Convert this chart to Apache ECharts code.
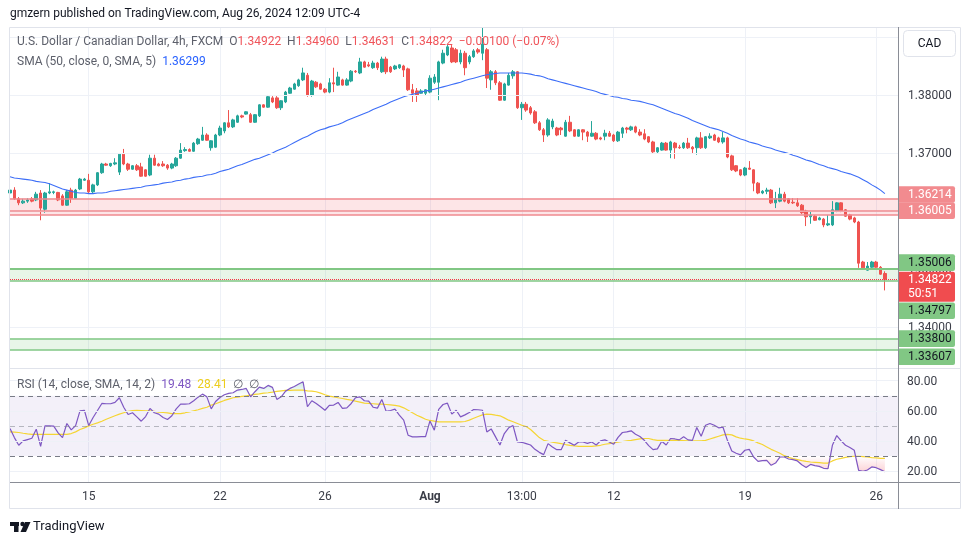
<!DOCTYPE html>
<html><head><meta charset="utf-8">
<script src="https://cdn.jsdelivr.net/npm/echarts/dist/echarts.min.js"></script>
<style>html,body{margin:0;padding:0;background:#fff;}#c{width:970px;height:545px;}</style>
</head><body><div id="c"></div>
<script>
// ---------- DATA ----------
// 4h candles [open, close, low, high]
const candles = [
[1.3631,1.3636,1.3628,1.3640],[1.3636,1.3621,1.3619,1.3641],[1.3621,1.3614,1.3610,1.3624],[1.3614,1.3617,1.3612,1.3621],[1.3617,1.3619,1.3614,1.3622],
[1.3621,1.3617,1.3615,1.3624],[1.3619,1.3629,1.3617,1.3633],[1.3631,1.3605,1.3584,1.3636],[1.3603,1.3631,1.3597,1.3633],[1.3631,1.3633,1.3629,1.3648],
[1.3632,1.3633,1.3629,1.3635],[1.3632,1.3619,1.3617,1.3633],[1.3626,1.3610,1.3609,1.3629],[1.3610,1.3633,1.3609,1.3636],[1.3636,1.3622,1.3614,1.3640],
[1.3622,1.3636,1.3621,1.3638],[1.3638,1.3655,1.3636,1.3657],[1.3653,1.3655,1.3652,1.3657],[1.3653,1.3633,1.3631,1.3664],[1.3633,1.3645,1.3631,1.3647],
[1.3645,1.3666,1.3643,1.3667],[1.3666,1.3681,1.3664,1.3683],[1.3681,1.3679,1.3678,1.3683],[1.3678,1.3682,1.3676,1.3683],[1.3681,1.3683,1.3679,1.3691],
[1.3667,1.3698,1.3662,1.3700],[1.3698,1.3681,1.3679,1.3707],[1.3681,1.3672,1.3669,1.3683],[1.3672,1.3678,1.3671,1.3679],[1.3678,1.3671,1.3669,1.3681],
[1.3676,1.3660,1.3659,1.3683],[1.3671,1.3660,1.3659,1.3672],[1.3662,1.3691,1.3660,1.3697],[1.3691,1.3679,1.3678,1.3697],[1.3681,1.3678,1.3677,1.3683],
[1.3681,1.3678,1.3676,1.3686],[1.3679,1.3674,1.3671,1.3681],[1.3674,1.3681,1.3672,1.3683],[1.3678,1.3691,1.3676,1.3693],[1.3691,1.3705,1.3690,1.3717],
[1.3704,1.3706,1.3702,1.3710],[1.3706,1.3703,1.3702,1.3708],[1.3703,1.3717,1.3702,1.3719],[1.3716,1.3724,1.3714,1.3726],[1.3722,1.3731,1.3721,1.3745],
[1.3731,1.3722,1.3721,1.3734],[1.3709,1.3721,1.3704,1.3722],[1.3710,1.3731,1.3709,1.3733],[1.3731,1.3743,1.3729,1.3747],[1.3738,1.3752,1.3734,1.3753],
[1.3752,1.3745,1.3743,1.3774],[1.3745,1.3757,1.3743,1.3759],[1.3753,1.3764,1.3752,1.3766],[1.3764,1.3762,1.3760,1.3766],[1.3767,1.3771,1.3766,1.3772],
[1.3766,1.3753,1.3752,1.3769],[1.3753,1.3766,1.3752,1.3767],[1.3764,1.3783,1.3762,1.3784],[1.3783,1.3779,1.3778,1.3784],[1.3779,1.3797,1.3778,1.3800],
[1.3795,1.3788,1.3786,1.3798],[1.3795,1.3778,1.3776,1.3798],[1.3778,1.3790,1.3774,1.3791],[1.3788,1.3805,1.3786,1.3807],[1.3803,1.3812,1.3802,1.3814],
[1.3810,1.3819,1.3809,1.3821],[1.3816,1.3826,1.3814,1.3828],[1.3826,1.3838,1.3824,1.3847],[1.3834,1.3800,1.3797,1.3838],[1.3800,1.3824,1.3797,1.3826],
[1.3822,1.3814,1.3812,1.3824],[1.3819,1.3810,1.3809,1.3821],[1.3810,1.3805,1.3803,1.3812],[1.3805,1.3821,1.3803,1.3829],[1.3821,1.3819,1.3805,1.3847],
[1.3817,1.3831,1.3816,1.3840],[1.3826,1.3817,1.3816,1.3828],[1.3817,1.3826,1.3816,1.3829],[1.3824,1.3841,1.3822,1.3843],[1.3841,1.3840,1.3838,1.3843],
[1.3838,1.3857,1.3836,1.3864],[1.3857,1.3848,1.3847,1.3859],[1.3852,1.3850,1.3848,1.3857],[1.3847,1.3855,1.3845,1.3859],[1.3855,1.3847,1.3843,1.3857],
[1.3840,1.3862,1.3838,1.3866],[1.3862,1.3840,1.3836,1.3866],[1.3848,1.3840,1.3838,1.3850],[1.3845,1.3850,1.3843,1.3852],[1.3847,1.3852,1.3845,1.3853],
[1.3850,1.3843,1.3831,1.3852],[1.3845,1.3809,1.3807,1.3847],[1.3809,1.3803,1.3788,1.3819],[1.3807,1.3800,1.3788,1.3812],[1.3803,1.3807,1.3802,1.3810],
[1.3803,1.3809,1.3800,1.3810],[1.3805,1.3829,1.3803,1.3834],[1.3822,1.3831,1.3819,1.3836],[1.3822,1.3857,1.3791,1.3859],[1.3855,1.3872,1.3853,1.3878],
[1.3869,1.3883,1.3867,1.3888],[1.3881,1.3857,1.3855,1.3886],[1.3878,1.3857,1.3855,1.3881],[1.3857,1.3872,1.3853,1.3878],[1.3872,1.3847,1.3834,1.3876],
[1.3857,1.3866,1.3853,1.3869],[1.3866,1.3876,1.3864,1.3879],[1.3878,1.3874,1.3871,1.3881],[1.3872,1.3888,1.3860,1.3917],[1.3878,1.3829,1.3812,1.3881],
[1.3826,1.3840,1.3809,1.3843],[1.3840,1.3821,1.3817,1.3843],[1.3821,1.3791,1.3790,1.3824],[1.3791,1.3819,1.3790,1.3821],[1.3817,1.3834,1.3816,1.3838],
[1.3833,1.3840,1.3828,1.3843],[1.3840,1.3778,1.3776,1.3841],[1.3778,1.3784,1.3757,1.3788],[1.3784,1.3774,1.3771,1.3788],[1.3778,1.3769,1.3766,1.3781],
[1.3771,1.3752,1.3750,1.3774],[1.3752,1.3740,1.3738,1.3755],[1.3740,1.3731,1.3719,1.3743],[1.3731,1.3757,1.3728,1.3760],[1.3745,1.3755,1.3741,1.3759],
[1.3743,1.3731,1.3729,1.3745],[1.3743,1.3740,1.3731,1.3745],[1.3729,1.3753,1.3728,1.3757],[1.3753,1.3738,1.3736,1.3764],[1.3740,1.3729,1.3728,1.3741],
[1.3729,1.3740,1.3728,1.3741],[1.3740,1.3736,1.3722,1.3741],[1.3736,1.3729,1.3719,1.3738],[1.3729,1.3734,1.3728,1.3755],[1.3734,1.3724,1.3722,1.3736],
[1.3726,1.3724,1.3722,1.3728],[1.3729,1.3734,1.3722,1.3740],[1.3734,1.3729,1.3728,1.3738],[1.3731,1.3721,1.3719,1.3733],[1.3721,1.3736,1.3719,1.3738],
[1.3734,1.3743,1.3726,1.3745],[1.3743,1.3741,1.3734,1.3745],[1.3740,1.3745,1.3738,1.3747],[1.3745,1.3736,1.3734,1.3747],[1.3736,1.3731,1.3729,1.3741],
[1.3733,1.3724,1.3722,1.3741],[1.3728,1.3719,1.3717,1.3729],[1.3719,1.3702,1.3700,1.3721],[1.3702,1.3709,1.3700,1.3710],[1.3705,1.3717,1.3704,1.3719],
[1.3717,1.3705,1.3704,1.3719],[1.3705,1.3719,1.3691,1.3721],[1.3717,1.3709,1.3690,1.3719],[1.3710,1.3709,1.3707,1.3714],[1.3709,1.3717,1.3707,1.3719],
[1.3717,1.3709,1.3707,1.3726],[1.3710,1.3707,1.3700,1.3712],[1.3709,1.3726,1.3697,1.3728],[1.3726,1.3709,1.3707,1.3736],[1.3709,1.3728,1.3707,1.3729],
[1.3726,1.3729,1.3724,1.3734],[1.3731,1.3722,1.3721,1.3733],[1.3726,1.3719,1.3717,1.3728],[1.3719,1.3726,1.3716,1.3736],[1.3726,1.3693,1.3691,1.3728],
[1.3695,1.3671,1.3669,1.3697],[1.3678,1.3669,1.3667,1.3679],[1.3671,1.3662,1.3660,1.3672],[1.3662,1.3674,1.3660,1.3676],[1.3674,1.3672,1.3671,1.3686],
[1.3671,1.3648,1.3634,1.3672],[1.3648,1.3631,1.3629,1.3650],[1.3631,1.3634,1.3629,1.3636],[1.3634,1.3636,1.3629,1.3640],[1.3636,1.3614,1.3612,1.3638],
[1.3614,1.3621,1.3605,1.3633],[1.3617,1.3629,1.3615,1.3640],[1.3629,1.3617,1.3615,1.3633],[1.3621,1.3614,1.3612,1.3622],[1.3615,1.3614,1.3612,1.3622],
[1.3614,1.3609,1.3607,1.3622],[1.3610,1.3597,1.3595,1.3612],[1.3600,1.3590,1.3574,1.3602],[1.3590,1.3593,1.3578,1.3600],[1.3591,1.3584,1.3583,1.3593],
[1.3585,1.3588,1.3584,1.3590],[1.3586,1.3576,1.3572,1.3588],[1.3576,1.3578,1.3574,1.3593],[1.3576,1.3602,1.3574,1.3617],[1.3600,1.3614,1.3598,1.3615],
[1.3614,1.3600,1.3598,1.3615],[1.3602,1.3591,1.3590,1.3603],[1.3593,1.3586,1.3584,1.3595],[1.3588,1.3581,1.3579,1.3590],[1.3581,1.3510,1.3502,1.3583],
[1.3512,1.3502,1.3500,1.3514],[1.3498,1.3505,1.3497,1.3512],[1.3503,1.3512,1.3502,1.3514],[1.3512,1.3503,1.3502,1.3514],[1.3503,1.3491,1.3490,1.3505],
[1.34922,1.34822,1.34631,1.34960]
];
// SMA(50)
const sma50 = [
1.3659,1.3657,1.3656,1.3655,1.3654,1.3653,1.3651,1.3650,1.3649,1.3647,
1.3644,1.3641,1.3638,1.3636,1.3634,1.3632,1.3631,1.3631,1.3630,1.3630,
1.3631,1.3631,1.3632,1.3634,1.3635,1.3636,1.3637,1.3638,1.3639,1.3640,
1.3641,1.3643,1.3644,1.3645,1.3646,1.3648,1.3649,1.3650,1.3652,1.3653,
1.3655,1.3656,1.3658,1.3659,1.3660,1.3662,1.3663,1.3665,1.3668,1.3670,
1.3672,1.3675,1.3678,1.3680,1.3683,1.3686,1.3689,1.3691,1.3694,1.3697,
1.3700,1.3704,1.3707,1.3710,1.3714,1.3718,1.3722,1.3726,1.3729,1.3733,
1.3737,1.3740,1.3742,1.3745,1.3747,1.3749,1.3752,1.3756,1.3759,1.3762,
1.3765,1.3768,1.3771,1.3775,1.3778,1.3781,1.3784,1.3788,1.3791,1.3794,
1.3797,1.3799,1.3801,1.3803,1.3805,1.3807,1.3808,1.3810,1.3812,1.3814,
1.3816,1.3818,1.3820,1.3822,1.3825,1.3827,1.3829,1.3831,1.3833,1.3835,
1.3836,1.3837,1.3838,1.3838,1.3838,1.3838,1.3838,1.3838,1.3837,1.3836,
1.3834,1.3833,1.3831,1.3828,1.3826,1.3824,1.3822,1.3820,1.3818,1.3816,
1.3814,1.3812,1.3810,1.3808,1.3806,1.3803,1.3801,1.3799,1.3797,1.3796,
1.3794,1.3793,1.3791,1.3790,1.3789,1.3787,1.3785,1.3783,1.3780,1.3777,
1.3774,1.3771,1.3768,1.3766,1.3763,1.3760,1.3756,1.3753,1.3750,1.3747,
1.3744,1.3742,1.3740,1.3737,1.3734,1.3730,1.3727,1.3724,1.3722,1.3719,
1.3717,1.3715,1.3712,1.3710,1.3708,1.3705,1.3703,1.3701,1.3699,1.3696,
1.3694,1.3691,1.3688,1.3686,1.3683,1.3680,1.3678,1.3675,1.3673,1.3671,
1.3668,1.3666,1.3664,1.3661,1.3658,1.3654,1.3650,1.3645,1.3641,1.3636,
1.36299
];
// RSI(14)
const rsi = [
48.2,42.2,37.1,40,40.9,41.8,47.8,36.4,50,50,
49.8,45.3,42.2,51.6,47.3,50.2,60,60.4,50.2,55.6,
60.2,64.9,64.7,64.7,65.6,68.7,62.4,57.6,58.7,56,
53.1,56.2,61.6,58.7,57.8,55.6,54.2,56.7,61.3,64.4,
64.4,64.7,66.7,69.1,71.1,69.3,61.3,66.2,68.9,70.7,
71.6,72,73.8,74.2,74.9,69.3,72.7,75.8,74.9,76.9,
75.6,67.6,69.3,73.1,74.9,76.2,77.8,79.3,62.7,66.7,
64.9,62.7,60.4,63.6,63.8,65.6,61.6,62,64.9,68.7,
69.3,66.7,66.4,62.4,61.8,67.6,59.6,60.2,61.1,57.1,
53.8,43.8,42.7,42.7,42.9,42.9,53.3,47.1,60.9,64.2,
65.1,57.8,60.4,56,57.3,58.9,60.9,60.7,60.4,46,
48,42.7,37.3,44.9,48.7,50.2,39.3,39.1,38.2,37.3,
34.4,32.4,30.9,38.2,36,34.2,34.2,40.4,38.7,37.1,
39.3,39.3,38.4,39.3,37.3,40,40.7,39.3,37.8,42.4,
45.6,46,46.7,44.4,42.9,40.4,36.9,34.2,34.7,39.8,
37.3,41.6,41.3,40.7,42.7,40.7,40.4,48.9,43.1,50.4,
51.6,50.4,48.7,49.1,40.4,33.3,31.8,30.7,33.8,34.4,
29.3,26.4,26.9,27.1,23.8,25.3,29.3,29.3,28,27.6,
26.7,24.2,22.4,24.4,23.6,23.1,21.8,21.6,37.1,43.6,
40,37.1,35.6,33.8,20.4,19.8,20.7,22.7,22.2,20.9,
19.48
];
// RSI-based MA(14)
const rsiMA = [
46,45.8,45.6,45.1,44.7,44.4,44.4,44.4,44.4,44.4,
44.4,44.4,44.4,44.4,44.9,46,47.6,48.7,50,51.1,
52,53.1,54.4,55.6,56.7,57.8,58.7,59.6,60.2,60.4,
60.2,60,60,59.6,59.1,58.9,58.7,58.2,58.2,58.2,
58.7,59.3,60,60.7,61.6,62.4,63.8,64.7,65.8,66.9,
67.8,68.7,69.1,69.6,70,70.4,70.9,71.3,71.8,72,
72.4,72.9,73.3,73.6,73.6,73.8,73.8,73.8,73.3,73.1,
72.7,71.8,70.7,69.8,69.3,68.7,68.2,67.6,67.1,66.4,
65.8,65.1,64.9,64.7,64.4,64.4,64.2,64,63.6,63.1,
62,60.4,58.7,57.1,55.8,54.4,53.6,53.1,52.7,52.7,
52.7,52.7,52.7,52.7,52.9,53.8,55.1,56.2,57.3,57.8,
57.6,57.1,56.7,55.3,53.8,52.7,51.6,50.4,49.6,47.6,
44.9,42.2,40.4,39.8,39.1,38.7,38.2,37.6,37.1,36.7,
36.4,36.4,36.4,36.4,36.7,37.1,37.8,38.2,38.7,39.1,
39.6,40,40.4,40.9,41.3,41.6,41.6,40.9,40.4,40.4,
40.4,40.4,40.4,40.4,40.2,40,40,40,40,40.4,
41.3,42.2,43.1,44,44.4,44,42.7,41.8,41.3,40.9,
40,38.7,37.6,36,34.4,33.1,31.8,30.2,29.1,28.2,
27.6,26.9,26.4,26,25.8,25.6,25.3,25.3,26.7,27.8,
28.4,29.1,29.6,29.8,29.8,29.6,29.3,28.9,28.7,28.4,
28.41
];
// time axis ticks (slot index -> label)
const tickIndex = [18, 48, 72, 96, 117, 138, 168, 198];
const tickText  = ['15', '22', '26', 'Aug', '13:00', '12', '19', '26'];
const priceTicks = [1.34, 1.35, 1.36, 1.37, 1.38, 1.39];
const rsiTicks = [20, 40, 60, 80];
// horizontal zones / levels
const redZone = [1.36214, 1.36005, 1.3593];
const greenZone = [1.35006, 1.34797];
const greenZone2 = [1.33800, 1.33607];
const lastPrice = 1.34822;
const smaLast = 1.36299;
const rsiLast = 19.48, rsiMALast = 28.41;

// ---------- CHART ----------
const FONT = 'Roboto, "Noto Sans", sans-serif';
const chart = echarts.init(document.getElementById('c'));
const NSLOT = 204;
const cats = Array.from({length: NSLOT}, (_, i) => String(i));
const tickMap = {}; tickIndex.forEach((k, j) => { tickMap[k] = tickText[j]; });
const isTick = (i) => tickMap[i] !== undefined;

const obBase = rsi.map(v => Math.min(v, 70));
const obTop = rsi.map(v => Math.max(v - 70, 0));
const osBase = rsi.map(v => Math.min(v, 30));
const osTop = rsi.map(v => 30 - Math.min(v, 30));

const hLine = (v, color, width, type) => ({yAxis: v, lineStyle: {color: color, width: width, type: type || 'solid'}});

const option = {
  animation: false,
  backgroundColor: '#ffffff',
  grid: [
    {left: 10, right: 72, top: 27, height: 341, containLabel: false, outerBoundsMode: 'none'},
    {left: 10, right: 72, top: 369, height: 113, containLabel: false, outerBoundsMode: 'none'}
  ],
  xAxis: [
    {type: 'category', gridIndex: 0, data: cats, boundaryGap: false,
     axisLine: {show: false}, axisTick: {show: false}, axisLabel: {show: false},
     splitLine: {show: true, interval: (i) => isTick(i), lineStyle: {color: '#eef1f7', width: 1}}},
    {type: 'category', gridIndex: 1, data: cats, boundaryGap: false,
     axisLine: {show: false}, axisTick: {show: false},
     axisLabel: {show: true, interval: (i) => isTick(i), margin: 9, fontSize: 12, fontFamily: FONT, color: '#3a3d47',
       formatter: (v) => tickMap[+v] === 'Aug' ? '{b|Aug}' : (tickMap[+v] || ''),
       rich: {b: {fontWeight: 'bold', fontSize: 12, fontFamily: FONT, color: '#3a3d47'}}},
     splitLine: {show: true, interval: (i) => isTick(i), lineStyle: {color: '#eef1f7', width: 1}}}
  ],
  yAxis: [
    {type: 'value', gridIndex: 0, min: 1.33293, max: 1.39172, position: 'right', scale: true,
     axisLine: {show: false}, axisTick: {show: false}, axisLabel: {show: false}, splitLine: {show: false}},
    {type: 'value', gridIndex: 1, min: 12.7, max: 87.8, position: 'right',
     axisLine: {show: false}, axisTick: {show: false}, axisLabel: {show: false}, splitLine: {show: false}}
  ],
  series: [
    {type: 'candlestick', name: 'USDCAD', xAxisIndex: 0, yAxisIndex: 0, data: candles, barWidth: 3, clip: true,
     itemStyle: {color: '#26a69a', color0: '#ef5350', borderColor: '#26a69a', borderColor0: '#ef5350', borderWidth: 1},
     markArea: {silent: true, data: [
       [{yAxis: redZone[0], itemStyle: {color: 'rgba(242,54,69,0.13)'}}, {yAxis: redZone[2]}],
       [{yAxis: greenZone[0], itemStyle: {color: 'rgba(76,175,80,0.13)'}}, {yAxis: greenZone[1]}],
       [{yAxis: greenZone2[0], itemStyle: {color: 'rgba(76,175,80,0.13)'}}, {yAxis: greenZone2[1]}]
     ]},
     markLine: {silent: true, symbol: ['none', 'none'], precision: 6, label: {show: false}, data: [
       ...priceTicks.map(v => hLine(v, '#eef1f7', 1)),
       hLine(redZone[0], '#ef8a8f', 1.5), hLine(redZone[1], '#ef8a8f', 1.5), hLine(redZone[2], '#ef8a8f', 1.5),
       hLine(greenZone[0], '#81c784', 2), hLine(greenZone[1], '#81c784', 1.5),
       hLine(greenZone2[0], '#81c784', 1.5), hLine(greenZone2[1], '#81c784', 1.5),
       hLine(lastPrice, '#f23645', 1, 'dotted')
     ]}
    },
    {type: 'line', name: 'SMA', xAxisIndex: 0, yAxisIndex: 0, data: sma50, symbol: 'none', z: 3,
     lineStyle: {color: '#3d6ef7', width: 1.1}},
    {type: 'line', id: 'obBase', xAxisIndex: 1, yAxisIndex: 1, data: obBase, stack: 'ob', symbol: 'none', silent: true, lineStyle: {opacity: 0}},
    {type: 'line', id: 'obTop', xAxisIndex: 1, yAxisIndex: 1, data: obTop, stack: 'ob', symbol: 'none', silent: true, lineStyle: {opacity: 0},
     areaStyle: {color: 'rgba(8,153,129,0.2)'}},
    {type: 'line', id: 'osBase', xAxisIndex: 1, yAxisIndex: 1, data: osBase, stack: 'os', symbol: 'none', silent: true, lineStyle: {opacity: 0}},
    {type: 'line', id: 'osTop', xAxisIndex: 1, yAxisIndex: 1, data: osTop, stack: 'os', symbol: 'none', silent: true, lineStyle: {opacity: 0},
     areaStyle: {color: 'rgba(242,54,69,0.2)'}},
    {type: 'line', name: 'RSI-MA', xAxisIndex: 1, yAxisIndex: 1, data: rsiMA, symbol: 'none', z: 3,
     lineStyle: {color: '#f5d533', width: 1.2}},
    {type: 'line', name: 'RSI', xAxisIndex: 1, yAxisIndex: 1, data: rsi, symbol: 'none', z: 4,
     lineStyle: {color: '#7e57c2', width: 1.2},
     markArea: {silent: true, data: [[{yAxis: 70, itemStyle: {color: 'rgba(126,87,194,0.09)'}}, {yAxis: 30}]]},
     markLine: {silent: true, symbol: ['none', 'none'], precision: 4, label: {show: false}, data: [
       ...rsiTicks.map(v => hLine(v, '#eef1f7', 1)),
       hLine(70, '#787b86', 1, [5, 4]), hLine(50, 'rgba(120,123,134,0.5)', 1, [5, 4]), hLine(30, '#787b86', 1, [5, 4])
     ]}
    }
  ]
};
chart.setOption(option);

const yP = v => chart.convertToPixel({yAxisIndex: 0}, v);
const yR = v => chart.convertToPixel({yAxisIndex: 1}, v);

// gradient fills for RSI extremes (70->100 green, 30->0 red)
chart.setOption({series: [
  {id: 'obTop', areaStyle: {color: new echarts.graphic.LinearGradient(0, yR(100), 0, yR(70), [
    {offset: 0, color: 'rgba(8,153,129,0.9)'}, {offset: 1, color: 'rgba(8,153,129,0)'}], true)}},
  {id: 'osTop', areaStyle: {color: new echarts.graphic.LinearGradient(0, yR(30), 0, yR(0), [
    {offset: 0, color: 'rgba(242,54,69,0)'}, {offset: 1, color: 'rgba(242,54,69,0.9)'}], true)}}
]});

const g = [];
const txt = (x, y, text, fill, size, extra) => Object.assign({type: 'text', silent: true, z: 50,
  style: Object.assign({x: x, y: y, text: text, fill: fill, font: (size || 12) + 'px ' + FONT, textVerticalAlign: 'middle', textAlign: 'left'}, extra || {})});
// frame and separators
g.push({type: 'rect', silent: true, z: 40, shape: {x: 9.5, y: 27.5, width: 951, height: 481}, style: {fill: 'none', stroke: '#e0e3eb', lineWidth: 1}});
g.push({type: 'line', silent: true, z: 41, shape: {x1: 10, y1: 368.5, x2: 960, y2: 368.5}, style: {stroke: '#e0e3eb', lineWidth: 1}});
g.push({type: 'line', silent: true, z: 41, shape: {x1: 10, y1: 482.5, x2: 960, y2: 482.5}, style: {stroke: '#8a8d96', lineWidth: 1}});
g.push({type: 'line', silent: true, z: 41, shape: {x1: 898.5, y1: 27, x2: 898.5, y2: 509}, style: {stroke: '#8a8d96', lineWidth: 1}});
// price scale labels
priceTicks.forEach(v => g.push(txt(908, yP(v) + 1, v.toFixed(5), '#3a3d47', 12)));
rsiTicks.forEach(v => g.push(txt(907, yR(v) + 1, v.toFixed(2), '#3a3d47', 12)));
// price tags
const tags = [
  {p: redZone[0], t: '1.36214', bg: '#f28b8f', fg: '#ffffff', dy: -4},
  {p: redZone[1], t: '1.36005', bg: '#f28b8f', fg: '#ffffff', dy: 0},
  {p: greenZone[0], t: '1.35006', bg: '#81c784', fg: '#131722', dy: -6},
  {p: greenZone[1], t: '1.34797', bg: '#81c784', fg: '#131722', dy: 30},
  {p: greenZone2[0], t: '1.33800', bg: '#81c784', fg: '#131722', dy: 0},
  {p: greenZone2[1], t: '1.33607', bg: '#81c784', fg: '#131722', dy: 7}
];
tags.forEach(tg => {
  const yc = yP(tg.p) + tg.dy;
  g.push({type: 'rect', silent: true, z: 60, shape: {x: 899, y: yc - 8.3, width: 56, height: 16.6, r: [0, 2, 2, 0]}, style: {fill: tg.bg}});
  g.push(Object.assign(txt(908, yc + 0.5, tg.t, tg.fg, 12), {z: 61}));
});
{
  const yc = yP(lastPrice);
  g.push({type: 'rect', silent: true, z: 62, shape: {x: 899, y: yc - 7.5, width: 56, height: 30, r: [0, 2, 2, 0]}, style: {fill: '#f04c4f'}});
  g.push(Object.assign(txt(908, yc + 1, lastPrice.toFixed(5), '#ffffff', 12), {z: 63}));
  g.push(Object.assign(txt(908, yc + 15, '50:51', '#ffffff', 12), {z: 63}));
}
// currency button
g.push({type: 'rect', silent: true, z: 64, shape: {x: 903.5, y: 30.5, width: 52, height: 26, r: 4}, style: {fill: '#ffffff', stroke: '#e0e3eb', lineWidth: 1}});
g.push(Object.assign(txt(929.5, 44, 'CAD', '#131722', 12, {textAlign: 'center'}), {z: 65}));
// headers
g.push(txt(10, 14, 'gmzern published on TradingView.com, Aug 26, 2024 12:09 UTC-4', '#131722', 12));
const c0 = candles[candles.length - 1];
g.push(txt(17, 42,
  '{g|U.S. Dollar / Canadian Dollar, 4h, FXCM  O}{r|' + c0[0].toFixed(5) + '}{g|  H}{r|' + c0[3].toFixed(5) +
  '}{g|  L}{r|' + c0[2].toFixed(5) + '}{g|  C}{r|' + c0[1].toFixed(5) + '}{r|  \u22120.00100 (\u22120.07%)}',
  '#5d606b', 12, {rich: {g: {fill: '#5d606b', font: '12px ' + FONT}, r: {fill: '#f0545a', font: '12px ' + FONT}}}));
g.push(txt(17, 62, '{g|SMA (50, close, 0, SMA, 5)  }{b|' + smaLast.toFixed(5) + '}', '#5d606b', 12,
  {rich: {g: {fill: '#5d606b', font: '12px ' + FONT}, b: {fill: '#2962ff', font: '12px ' + FONT}}}));
g.push(txt(17, 385, '{g|RSI (14, close, SMA, 14, 2)  }{p|' + rsiLast.toFixed(2) + '}{g|  }{y|' + rsiMALast.toFixed(2) + '}{g|  \u2205  \u2205}', '#5d606b', 12,
  {rich: {g: {fill: '#5d606b', font: '12px ' + FONT}, p: {fill: '#7e57c2', font: '12px ' + FONT}, y: {fill: '#eccd1c', font: '12px ' + FONT}}}));
// TradingView logo
g.push({type: 'rect', silent: true, z: 50, shape: {x: 10, y: 522, width: 9, height: 4}, style: {fill: '#131722'}});
g.push({type: 'rect', silent: true, z: 50, shape: {x: 14, y: 522, width: 4.5, height: 10}, style: {fill: '#131722'}});
g.push({type: 'circle', silent: true, z: 50, shape: {cx: 22.5, cy: 524, r: 2.2}, style: {fill: '#131722'}});
g.push({type: 'polygon', silent: true, z: 50, shape: {points: [[25, 522], [30.5, 522], [26, 532], [20.5, 532]]}, style: {fill: '#131722'}});
g.push(txt(33, 527, 'TradingView', '#131722', 13));

chart.setOption({graphic: g});
</script>
</body></html>
